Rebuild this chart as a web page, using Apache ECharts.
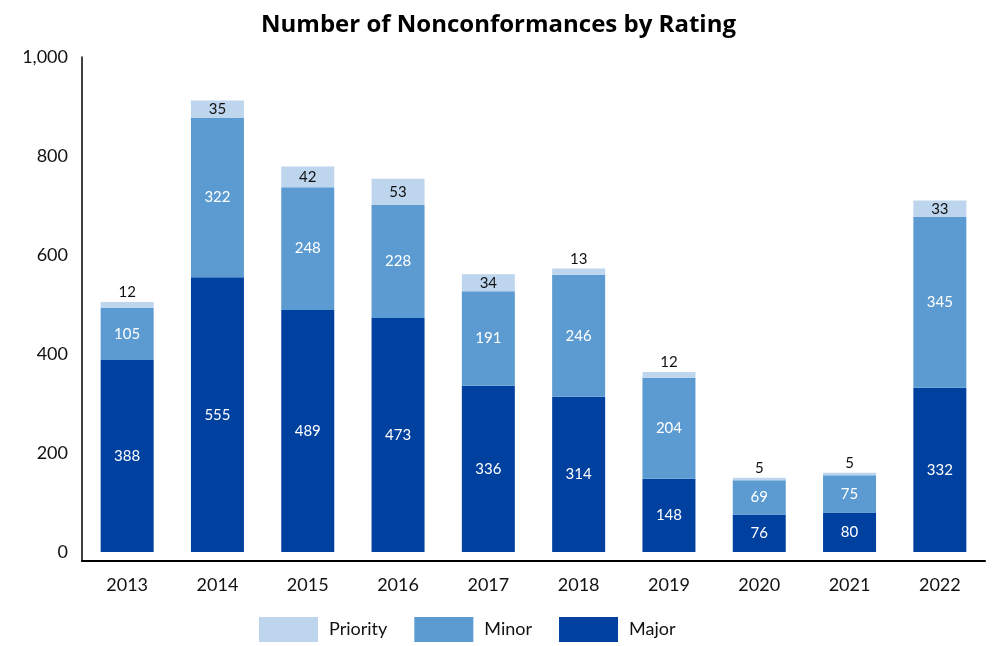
<!DOCTYPE html>
<html lang="en">

<head>
    <meta charset="UTF-8">
    <title>Number of Nonconformances by Rating</title>
    <style>
        body {
            margin: 0;
            overflow: hidden;
            background: #fff;
        }

        #chart {
            width: 997px;
            height: 646px;
        }
    </style>
</head>

<body>
    <div id="chart"></div>
    <script src="https://cdn.jsdelivr.net/npm/echarts@6/dist/echarts.min.js"></script>
    <script>
        var years = ['2013', '2014', '2015', '2016', '2017', '2018', '2019', '2020', '2021', '2022'];
        var major = [388, 555, 489, 473, 336, 314, 148, 76, 80, 332];
        var minor = [105, 322, 248, 228, 191, 246, 204, 69, 75, 345];
        var priority = [12, 35, 42, 53, 34, 13, 12, 5, 5, 33];
        var yTicks = [0, 200, 400, 600, 800, 1000];

        var font = 'Lato, "Open Sans", sans-serif';

        var myChart = echarts.init(document.getElementById('chart'));

        var option = {
            animation: false,
            textStyle: { fontFamily: font },
            title: {
                text: 'Number of Nonconformances by Rating',
                left: 'center',
                top: 8,
                textStyle: { fontSize: 24, fontWeight: 'bold', color: '#000', fontFamily: '"Open Sans", sans-serif' }
            },
            legend: {
                data: ['Priority', 'Minor', 'Major'],
                left: 254,
                top: 612,
                itemWidth: 59,
                itemHeight: 25,
                itemGap: 27,
                icon: 'rect',
                textStyle: { fontSize: 18, color: '#111', padding: [0, 0, 0, 6] }
            },
            grid: {
                left: 82,
                right: 12,
                top: 57,
                bottom: 85
            },
            xAxis: {
                type: 'category',
                data: years,
                axisLine: { onZero: false, lineStyle: { color: '#000', width: 2 } },
                axisTick: { show: false },
                axisLabel: { fontSize: 18, color: '#111', margin: 15 }
            },
            yAxis: {
                type: 'value',
                min: -18,
                max: 1000,
                axisLine: { show: true, lineStyle: { color: '#000', width: 1.5 } },
                axisTick: { show: false },
                splitLine: { show: false },
                axisLabel: {
                    fontSize: 18,
                    color: '#111',
                    margin: 14,
                    customValues: yTicks,
                    formatter: function (v) {
                        return v.toLocaleString('en-US');
                    }
                }
            },
            series: [{
                name: 'Major',
                type: 'bar',
                stack: 'total',
                barWidth: 53,
                itemStyle: { color: '#0041a0' },
                label: { show: true, position: 'inside', color: '#fff', fontSize: 15 },
                data: major
            }, {
                name: 'Minor',
                type: 'bar',
                stack: 'total',
                barWidth: 53,
                itemStyle: { color: '#5b9bd1' },
                label: { show: true, position: 'inside', color: '#fff', fontSize: 15 },
                data: minor
            }, {
                name: 'Priority',
                type: 'bar',
                stack: 'total',
                barWidth: 53,
                itemStyle: { color: '#bdd6ee' },
                data: priority.map(function (v) {
                    return {
                        value: v,
                        label: {
                            show: true,
                            position: v < 20 ? 'top' : 'inside',
                            distance: 2,
                            color: '#111',
                            fontSize: 15
                        }
                    };
                })
            }]
        };

        myChart.setOption(option);
    </script>
</body>

</html>
